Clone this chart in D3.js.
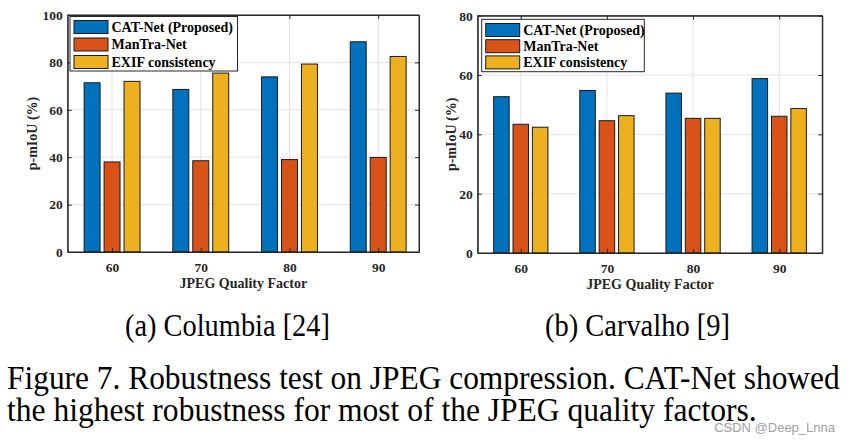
<!DOCTYPE html>
<html>
<head>
<meta charset="utf-8">
<script src="https://cdn.jsdelivr.net/npm/d3@7"></script>
<style>
  html, body { margin: 0; padding: 0; background: #fff; }
  svg { display: block; }
  svg text { font-family: "Liberation Serif", "Times New Roman", Times, "Nimbus Roman", serif; }
  svg text.wm { font-family: "Liberation Sans", Arial, Helvetica, sans-serif; }
</style>
</head>
<body>
<svg id="fig" width="850" height="446"></svg>
<script>
// ---------------- DATA ----------------
const categories = [60, 70, 80, 90];
const seriesNames = ["CAT-Net (Proposed)", "ManTra-Net", "EXIF consistency"];
const seriesColors = ["#0072BD", "#D95319", "#EDB120"];

const columbiaCAT    = [71.4, 68.6, 73.9, 88.7];
const columbiaManTra = [38.0, 38.5, 39.0, 39.9];
const columbiaEXIF   = [72.0, 75.5, 79.3, 82.5];
const columbiaTicks  = [0, 20, 40, 60, 80, 100];

const carvalhoCAT    = [52.7, 54.8, 53.9, 58.8];
const carvalhoManTra = [43.4, 44.6, 45.4, 46.1];
const carvalhoEXIF   = [42.4, 46.3, 45.4, 48.7];
const carvalhoTicks  = [0, 20, 40, 60, 80];

const xLabel = "JPEG Quality Factor";
const yLabel = "p-mIoU (%)";
const captionA = "(a) Columbia [24]";
const captionB = "(b) Carvalho [9]";
const figLine1 = "Figure 7. Robustness test on JPEG compression. CAT-Net showed";
const figLine2 = "the highest robustness for most of the JPEG quality factors.";
const watermark = "CSDN @Deep_Lnna";

// ---------------- DRAW ----------------
const svg = d3.select("#fig");
const AX = "#262626";

function drawChart(cfg) {
  const g = svg.append("g");
  const x = d3.scaleLinear().domain(cfg.xDomain).range([cfg.left, cfg.right]);
  const y = d3.scaleLinear().domain([0, cfg.yMax]).range([cfg.bottom, cfg.top]);

  // grid
  g.append("g").selectAll("line").data(cfg.yTicks).join("line")
    .attr("x1", cfg.left).attr("x2", cfg.right)
    .attr("y1", d => y(d)).attr("y2", d => y(d))
    .attr("stroke", "#e3e3e3").attr("stroke-width", 1);
  g.append("g").selectAll("line").data(categories).join("line")
    .attr("x1", d => x(d)).attr("x2", d => x(d))
    .attr("y1", cfg.top).attr("y2", cfg.bottom)
    .attr("stroke", "#e3e3e3").attr("stroke-width", 1);

  // bars
  const offsets = [-2.25, 0, 2.25];
  const bw = 1.8;
  cfg.series.forEach((vals, si) => {
    g.append("g").selectAll("rect").data(vals).join("rect")
      .attr("x", (d, i) => x(categories[i] + offsets[si] - bw / 2))
      .attr("width", (d, i) => x(categories[i] + offsets[si] + bw / 2) - x(categories[i] + offsets[si] - bw / 2))
      .attr("y", d => y(d))
      .attr("height", d => y(0) - y(d))
      .attr("fill", seriesColors[si])
      .attr("stroke", "#1a1a1a").attr("stroke-width", 1);
  });

  // axes
  const style = a => {
    a.attr("font-family", null).attr("font-size", null);
    a.selectAll("path,line").attr("stroke", AX);
    a.selectAll("text").style("font-weight", "bold").style("font-size", "13.5px").attr("fill", AX);
  };

  g.append("g").attr("transform", `translate(${cfg.left},0)`)
    .call(d3.axisLeft(y).tickValues(cfg.yTicks).tickSizeInner(-4).tickSizeOuter(0).tickPadding(5).tickFormat(d3.format("d")))
    .call(style);
  g.append("g").attr("transform", `translate(${cfg.right},0)`)
    .call(d3.axisRight(y).tickValues(cfg.yTicks).tickSizeInner(-4).tickSizeOuter(0).tickFormat(""))
    .call(style);
  g.append("g").attr("transform", `translate(0,${cfg.bottom})`)
    .call(d3.axisBottom(x).tickValues(categories).tickSizeInner(-4).tickSizeOuter(0).tickPadding(10).tickFormat(d3.format("d")))
    .call(style);
  g.append("g").attr("transform", `translate(0,${cfg.top})`)
    .call(d3.axisTop(x).tickValues(categories).tickSizeInner(-4).tickSizeOuter(0).tickFormat(""))
    .call(style);
  g.append("rect").attr("x", cfg.left).attr("y", cfg.top)
    .attr("width", cfg.right - cfg.left).attr("height", cfg.bottom - cfg.top)
    .attr("fill", "none").attr("stroke", AX).attr("stroke-width", 1);

  // labels
  g.append("text").attr("x", (cfg.left + cfg.right) / 2).attr("y", cfg.bottom + 36)
    .attr("text-anchor", "middle").style("font-weight", "bold")
    .style("font-size", "14px").attr("fill", AX).text(xLabel);
  g.append("text")
    .attr("transform", `translate(${cfg.ylabX},${(cfg.top + cfg.bottom) / 2}) rotate(-90)`)
    .attr("text-anchor", "middle").style("font-weight", "bold")
    .style("font-size", "14px").attr("fill", AX).text(yLabel);

  // legend
  const L = cfg.legend;
  const lg = g.append("g");
  lg.append("rect").attr("x", L.x).attr("y", L.y).attr("width", L.w).attr("height", L.h)
    .attr("fill", "#fff").attr("stroke", AX).attr("stroke-width", 1);
  seriesNames.forEach((name, i) => {
    const cy = L.y + L.firstRow + i * L.step;
    lg.append("rect").attr("x", L.x + 4).attr("y", cy - 6.5).attr("width", 34).attr("height", 13)
      .attr("fill", seriesColors[i]).attr("stroke", "#1a1a1a").attr("stroke-width", 1);
    lg.append("text").attr("x", L.x + 41.5).attr("y", cy + 4.8)
      .style("font-weight", "bold").style("font-size", "14px")
      .attr("fill", "#000").text(name);
  });
}

drawChart({
  left: 67.7, right: 419, top: 15, bottom: 252, xDomain: [55, 94.6], yMax: 100,
  yTicks: columbiaTicks, series: [columbiaCAT, columbiaManTra, columbiaEXIF], ylabX: 37,
  legend: { x: 70, y: 16.5, w: 167.5, h: 54.5, firstRow: 10.5, step: 17.5 }
});
drawChart({
  left: 477.7, right: 822.3, top: 15.7, bottom: 253, xDomain: [55, 95], yMax: 80,
  yTicks: carvalhoTicks, series: [carvalhoCAT, carvalhoManTra, carvalhoEXIF], ylabX: 456,
  legend: { x: 481.7, y: 19.3, w: 162.6, h: 52.4, firstRow: 10.7, step: 16.2 }
});

// captions: condensed serif text, squeezed horizontally to the reference widths
function condensed(str, x, y, size, width) {
  const t = svg.append("text").attr("x", 0).attr("y", 0)
    .style("font-size", size + "px").attr("fill", "#000").text(str);
  const natural = t.node().getComputedTextLength();
  t.attr("transform", `translate(${x},${y}) scale(${width / natural},1)`);
  return t;
}
condensed(captionA, 125, 336, 31, 205);
condensed(captionB, 545, 336, 31, 185);
condensed(figLine1, 7, 389, 33, 833);
condensed(figLine2, 7, 421, 33, 750);

svg.append("text").attr("class", "wm").attr("x", 835).attr("y", 432).attr("text-anchor", "end")
  .style("font-size", "13px").attr("fill", "#a0a0a0").text(watermark);
</script>
</body>
</html>
